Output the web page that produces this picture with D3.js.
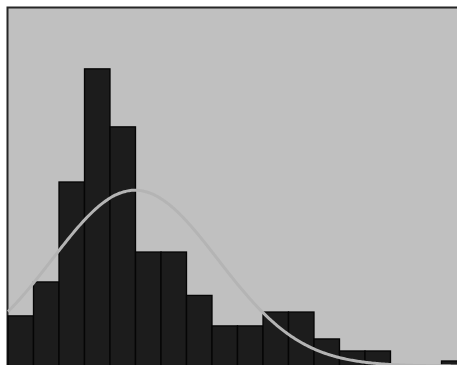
<!DOCTYPE html>
<html>
<head>
<meta charset="utf-8">
<script src="https://cdn.jsdelivr.net/npm/d3@7"></script>
<style>
  html, body { margin: 0; padding: 0; background: #ffffff; overflow: hidden; }
  svg { display: block; }
</style>
</head>
<body>
<svg id="chart" width="457" height="365"></svg>
<script>
// Histogram bins (start of each unit-wide bin) and their density values
const binStarts = [0, 1, 2, 3, 4, 5, 6, 7, 8, 9, 10, 11, 12, 13, 14, 15, 16, 17];
const densities = [0.035, 0.0587, 0.1285, 0.2075, 0.167, 0.0796, 0.0796, 0.0493,
                   0.028, 0.028, 0.0377, 0.0377, 0.0189, 0.0105, 0.0105, 0, 0, 0.0035];
// Fitted normal curve parameters
const fitMean = [4.98];
const fitSd = [3.25];

const svg = d3.select("#chart");
const panelLeft = 7.5, panelTop = 7.5;

const x = d3.scaleLinear().domain([0, 18]).range([8, 8 + 18 * 25.5]);
const y = d3.scaleLinear().domain([0, 0.25]).range([366, 8]);

// plot panel (extends past the window on the right and bottom)
svg.append("rect")
  .attr("x", panelLeft).attr("y", panelTop)
  .attr("width", 470).attr("height", 380)
  .attr("fill", "#c0c0c0")
  .attr("stroke", "#262626")
  .attr("stroke-width", 2);

const bins = binStarts.map((b, i) => ({ x0: b, x1: b + 1, v: densities[i] }));

svg.append("g")
  .selectAll("rect")
  .data(bins.filter(d => d.v > 0))
  .join("rect")
  .attr("x", d => x(d.x0))
  .attr("y", d => y(d.v))
  .attr("width", d => x(d.x1) - x(d.x0))
  .attr("height", d => y(0) - y(d.v) + 10)
  .attr("fill", "#1c1c1c")
  .attr("stroke", "#050505")
  .attr("stroke-width", 1.3);

// normal density curve
const mu = fitMean[0], sd = fitSd[0];
const pdf = t => Math.exp(-0.5 * ((t - mu) / sd) ** 2) / (sd * Math.sqrt(2 * Math.PI));
const pts = d3.range(0, 18.01, 0.05).map(t => [t, pdf(t)]);

svg.append("path")
  .datum(pts)
  .attr("fill", "none")
  .attr("stroke", "#b4b4b4")
  .attr("stroke-width", 3)
  .attr("d", d3.line().x(d => x(d[0])).y(d => y(d[1])).curve(d3.curveBasis));
</script>
</body>
</html>
